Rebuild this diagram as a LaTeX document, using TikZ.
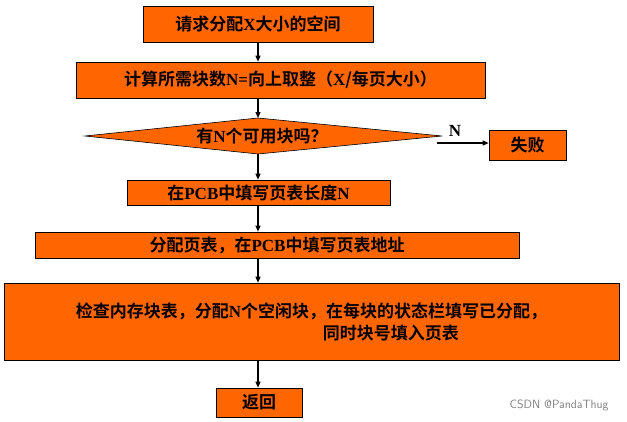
\documentclass[tikz,border=0pt]{standalone}
\usepackage{fontspec}
\setmainfont{Liberation Serif}
\newfontfamily\cjk{Noto Sans CJK SC}[BoldFont={* Bold}]
\usetikzlibrary{arrows.meta}
\begin{document}
\begin{tikzpicture}[x=1pt,y=-1pt,
  box/.style={draw=black,line width=0.6pt,fill=orangebox,inner sep=0pt,font=\cjk\bfseries\fontsize{17}{22}\selectfont},
  arr/.style={-{Triangle[length=6pt,width=5pt]},line width=1.2pt}]
\definecolor{orangebox}{HTML}{FF6600}
\newcommand\lat[1]{{\rmfamily\bfseries #1}}
\useasboundingbox (0,0) rectangle (627,421);
\node[box,minimum width=230,minimum height=36] (a) at (258,24) {请求分配\lat{X}大小的空间};
\node[box,minimum width=409,minimum height=36] (b) at (280.5,80) {计算所需块数\lat{N=}向上取整（\lat{X}/每页大小）};
\coordinate (dl) at (85,136); \coordinate (dr) at (442,136);
\coordinate (dt) at (258,118); \coordinate (db) at (258,154);
\fill[orangebox,draw=black,line width=0.6pt] (dl)--(dt)--(dr)--(db)--cycle;
\node[font=\cjk\bfseries\fontsize{17}{22}\selectfont] (d) at (262,136) {有\lat{N}个可用块吗？};
\node[box,minimum width=77,minimum height=30] (f) at (527.5,145) {失败};
\node[box,minimum width=263,minimum height=25] (c) at (258.5,192.5) {在\lat{PCB}中填写页表长度\lat{N}};
\node[box,minimum width=484,minimum height=26] (e) at (277,245) {分配页表，在\lat{PCB}中填写页表地址};
\node[box,minimum width=615,minimum height=77,align=left] (g) at (311.5,321.5) {检查内存块表，分配\lat{N}个空闲块，在每块的状态栏填写已分配，\\\hspace*{247pt}同时块号填入页表};
\node[box,minimum width=86,minimum height=29] (h) at (259,402.5) {返回};
\coordinate (ns) at (437,143);
\draw[arr] (a.south -| db) -- (b.north -| db);
\draw[arr] (b.south -| dt) -- (dt);
\draw[arr] (db) -- (c.north -| db);
\draw[arr] (c.south -| db) -- (e.north -| db);
\draw[arr] (e.south -| db) -- (g.north -| db);
\draw[arr] (g.south -| db) -- (h.north -| db);
\draw[arr] (ns) -- (f.west |- ns) node[pos=0.35,above=3pt,font=\rmfamily\bfseries\fontsize{17}{20}\selectfont] {N};
\node[anchor=east,text=gray,font=\sffamily\fontsize{12}{14}\selectfont] (w) at (612,405) {CSDN @PandaThug};
\end{tikzpicture}
\end{document}
